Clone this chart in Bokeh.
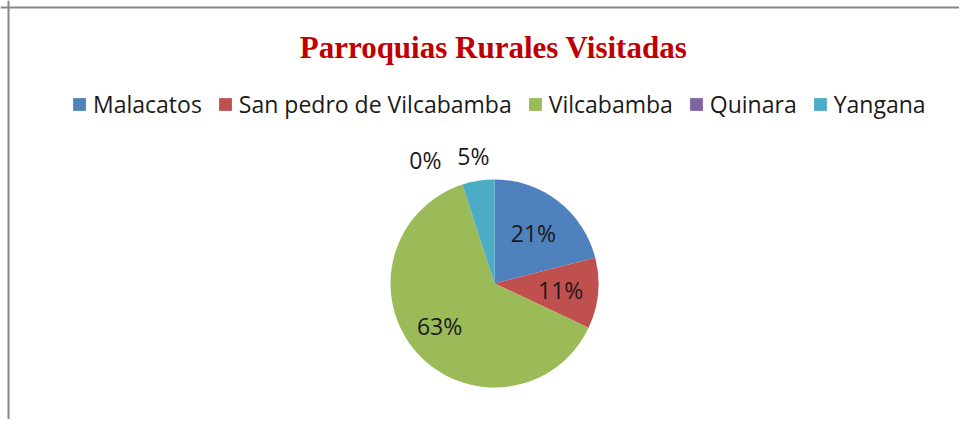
import math
from bokeh.plotting import figure
from bokeh.models import Range1d, Legend, LegendItem, Label, Span, ColumnDataSource
from bokeh.core.properties import value
from bokeh.embed import file_html
from bokeh.resources import INLINE

# ---- data ----
chart_title = "Parroquias Rurales Visitadas"
categories = ["Malacatos", "San pedro de Vilcabamba", "Vilcabamba", "Quinara", "Yangana"]
percentages = [21, 11, 63, 0, 5]
colors = ["#4F81BD", "#C0504D", "#9BBB59", "#8064A2", "#4BACC6"]

# ---- style / layout ----
W, H = 959, 419
cx, cy, R = 494, 136, 104
label_r = [0.61, 0.64, 0.67, 1.36, 1.24]          # radial position of the % labels
label_nudge = [0.0, -0.01, -0.06, 0.197, 0.007]    # angular nudge (rad) to avoid overlaps

p = figure(width=W, height=H, output_backend="svg", toolbar_location=None,
           x_range=Range1d(0, W), y_range=Range1d(0, H), min_border=0)
p.axis.visible = False
p.grid.visible = False
p.outline_line_color = None
p.background_fill_color = "white"
p.border_fill_color = "white"

total = float(sum(percentages))
start = math.pi / 2
items = []
lx, ly, lt = [], [], []
for cat, v, col, lr, nd in zip(categories, percentages, colors, label_r, label_nudge):
    end = start - 2 * math.pi * v / total
    src = ColumnDataSource(dict(x=[cx], y=[cy], s=[start], e=[end]))
    r = p.wedge(x="x", y="y", radius=R if v > 0 else 0, start_angle="s", end_angle="e",
                direction="clock", fill_color=col, line_color=None, source=src)
    items.append(LegendItem(label=cat, renderers=[r]))
    mid = (start + end) / 2 + nd
    lx.append(cx + lr * R * math.cos(mid))
    ly.append(cy + lr * R * math.sin(mid))
    lt.append(f"{round(100 * v / total)}%")
    start = end

p.text(x=lx, y=ly, text=lt, text_font=value("Open Sans"), text_font_size="23px",
       text_color="#1a1a1a", text_align="center", text_baseline="middle")

legend = Legend(items=items, orientation="horizontal", location=(71, 299),
                label_text_font="Open Sans", label_text_font_size="23px",
                label_text_color="#1a1a1a",
                glyph_width=16, glyph_height=16, label_standoff=6, spacing=15,
                padding=0, margin=0, border_line_color=None, background_fill_alpha=0)
p.add_layout(legend)

p.add_layout(Label(x=493, y=372, text=chart_title, text_font="Liberation Serif",
                   text_font_style="bold", text_font_size="31px", text_color="#C00000",
                   text_align="center", text_baseline="middle"))

p.add_layout(Span(location=8, dimension="height", line_color="#878787", line_width=2))
p.add_layout(Span(location=H - 7, dimension="width", line_color="#878787", line_width=2))

open("out.html", "w").write(file_html(p, INLINE))
